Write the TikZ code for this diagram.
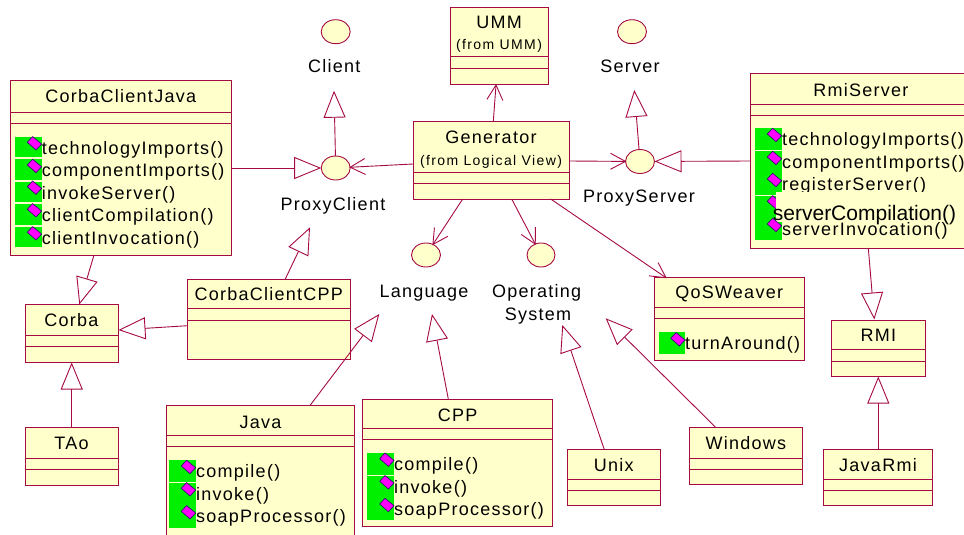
\documentclass[tikz,border=0pt]{standalone}
\usepackage{fontspec}
\setmainfont[LetterSpace=7]{Liberation Sans}
\newfontfamily\fromfont[LetterSpace=10]{Liberation Sans}
\newfontfamily\bigopfont{Liberation Sans}
\usetikzlibrary{calc,arrows.meta,shapes.geometric}
\definecolor{umlline}{HTML}{A50A45}
\definecolor{umlfill}{HTML}{FFFFCB}
\definecolor{opgreen}{HTML}{00F000}
\definecolor{opmagenta}{HTML}{FF00FF}
\definecolor{opshadow}{HTML}{2A0A6A}
\pgfdeclarearrow{
  name = OpenBarb,
  setup code = {\pgfarrowssettipend{0pt}\pgfarrowssetlineend{0pt}\pgfarrowssetbackend{-15pt}\pgfarrowssetvisualbackend{-15pt}},
  drawing code = {
    \pgfpathmoveto{\pgfqpoint{-15pt}{8pt}}
    \pgfpathlineto{\pgfpointorigin}
    \pgfpathlineto{\pgfqpoint{-15pt}{-8pt}}
    \pgfusepathqstroke
  },
}
\tikzset{
  classbox/.style={draw=umlline, fill=umlfill, line width=1pt, inner sep=0pt, outer sep=0pt},
  classrule/.style={draw=umlline, line width=.9pt},
  umltext/.style={inner sep=0pt, anchor=base, font=\fontsize{18}{20}\selectfont},
  fromtext/.style={inner sep=0pt, anchor=base, font=\fromfont\fontsize{14}{16}\selectfont},
  optext/.style={inner sep=0pt, anchor=base west, font=\fontsize{18}{20}\selectfont},
  lolly/.style={ellipse, draw=umlline, fill=umlfill, line width=.9pt, inner sep=0pt, outer sep=0pt,
    minimum width=29pt, minimum height=24pt},
  genline/.style={draw=umlline, line width=.9pt, -{Triangle[open,length=27pt,width=22pt]}},
  assocline/.style={draw=umlline, line width=.9pt, -{OpenBarb}},
}
\newcommand*{\ClassBox}[9]{% #1 = name, #2-#5 = corners, #6/#7 = rules, #8 = baseline, #9 = title
  \node [classbox, minimum width={(#4-#2)*1pt}, minimum height={(#5-#3)*1pt}]
    (#1) at ({(#2+#4)/2},{(#3+#5)/2}) {};
  \draw [classrule] (#1.west |- 0,#6) -- (#1.east |- 0,#6);
  \draw [classrule] (#1.west |- 0,#7) -- (#1.east |- 0,#7);
  \node [umltext] (#1title) at ({(#2+#4)/2},#8) {#9};
}
\newcommand*{\GreenCells}[1]{% #1 = list of x1/y1/x2/y2
  \foreach \xa/\ya/\xb/\yb in {#1} {
    \fill [opgreen] (\xa,\ya) rectangle (\xb,\yb);
    }%
}
\newcommand*{\OpIcon}[2]{% #1/#2 = centre
  \filldraw [shift={(#1,#2)}, fill=opmagenta, draw=opshadow, line width=.6pt]
    (-7,-1) -- (-1.7,-6.7) -- (7.3,.7) -- (1.7,6.7) -- cycle;
}
\newcommand*{\OpCells}[2]{% #1 = prefix, #2 = list of iconx/icony/textx/baseline/name
  \foreach \ix/\iy/\tx/\ty/\opname [count=\i] in {#2} {
    \OpIcon{\ix}{\iy}
    \node [optext] (#1\i) at (\tx,\ty) {\opname()};
    }%
}

\begin{document}
\begin{tikzpicture}[x=1pt,y=-1pt]
  \useasboundingbox (0,0) rectangle (964,535);

  \ClassBox{ccjava}{10.5}{80.5}{231}{255}{112}{123}{102.7}{CorbaClientJava}
  \ClassBox{umm}{450}{7.5}{548.3}{85}{56.5}{68}{28.3}{UMM}
  \ClassBox{generator}{413}{121.5}{569}{199}{172.5}{183.5}{143.3}{Generator}
  \ClassBox{rmiserver}{750.7}{73.7}{971}{248}{104.5}{115.5}{96}{RmiServer}
  \ClassBox{cccpp}{187.5}{279}{350}{359}{308.7}{320}{300}{CorbaClientCPP}
  \ClassBox{corba}{25}{304.5}{118}{362}{335.5}{346.5}{326.7}{Corba}
  \ClassBox{tao}{25}{427}{118}{485}{458}{469}{449}{TAo}
  \ClassBox{java}{166.5}{405.5}{354.5}{535}{435.5}{446.7}{428.3}{Java}
  \ClassBox{cpp}{362.7}{399}{552.7}{526.7}{428}{439.5}{421}{CPP}
  \ClassBox{qos}{654.3}{277.7}{804}{360.7}{307.5}{318.7}{298.7}{QoSWeaver}
  \ClassBox{rmi}{831.7}{320}{925}{376}{349.5}{361}{341.7}{RMI}
  \ClassBox{unix}{567.3}{449.7}{660}{505.7}{479}{490}{471.7}{Unix}
  \ClassBox{windows}{689.7}{427}{802}{484.7}{458}{469}{449}{Windows}
  \ClassBox{javarmi}{823.3}{449.7}{932.7}{505.7}{479}{490}{471.7}{JavaRmi}

  \node [fromtext] (ummfrom) at (499,50) {(from UMM)};
  \node [fromtext] (genfrom) at (491,165.3) {(from Logical View)};

  % operations
  \GreenCells{15/137/42/157.3, 15/159/42/180, 15/182/42/202.3, 15/204/42/225, 15/227/42/246.7}
  \OpCells{ccjop}{34.3/143.3/41.7/154.3/technologyImports, 34.3/166/41.7/176/componentImports,
    34.3/187.7/41.7/199.3/invokeServer, 34.3/210.3/41.7/221/clientCompilation,
    34.3/233.3/41.7/244/clientInvocation}
  \GreenCells{169/460/196/481.7, 169/483/196/527.7}
  \OpCells{javaop}{188.3/467/196/477.3/compile, 188.3/489.3/196/500/invoke, 188.3/512.3/196/522.3/soapProcessor}
  \GreenCells{367.3/453/394/475, 367.3/475.7/394/520}
  \OpCells{cppop}{386.7/459.7/394/470/compile, 386.7/482.3/394/493.3/invoke, 386.7/505/394/515/soapProcessor}
  \GreenCells{659/332/685/354}
  \OpCells{qosop}{677.7/339.3/685/349.3/turnAround}
  \GreenCells{755/128/782/150, 755/151/782/195, 755/196/782/240}
  \OpCells{rmiop}{774.3/135/782/145.3/technologyImports, 774.3/158/782/168/componentImports,
    774.3/180/782/190.3/registerServer}
  \OpIcon{774.3}{202.3}
  \fill [umlfill] (776,191.7) rectangle (958,222);
  \node [optext, font=\bigopfont\fontsize{21}{24}\selectfont] (rmiopbig) at (772.7,220.7) {serverCompilation()};
  \OpCells{rmiend}{774.3/225/782/235/serverInvocation}

  % interfaces
  \node [lolly] (client) at (335.7,31.7) {};
  \node [lolly] (server) at (632,31.7) {};
  \node [lolly] (proxyclient) at (335.7,168) {};
  \node [lolly] (proxyserver) at (640,161.5) {};
  \node [lolly] (language) at (426,255) {};
  \node [lolly, minimum width=28pt] (opsystem) at (541,255) {};
  \node [umltext] (clientlabel) at (334.3,72.7) {Client};
  \node [umltext] (serverlabel) at (630,72.7) {Server};
  \node [umltext] (proxyclientlabel) at (333,210.7) {ProxyClient};
  \node [umltext] (proxyserverlabel) at (639,202.3) {ProxyServer};
  \node [umltext] (languagelabel) at (424,297.3) {Language};
  \node [umltext] (opsystemlabel) at (536.7,297.3) {Operating};
  \node [umltext] (opsystemlabelb) at (538,320) {System};

  % free ends of the open triangles
  \foreach \n/\x/\y in {tipclient/334/90.7, tipserver/634.3/90, tipcorbaa/79.3/304.5, tipcorbab/118.5/330,
    tipcorbac/71.7/362.5, tipproxya/310/227.3, tipjava/379.3/314, tipcpp/432/314,
    tipunix/562.3/325, tipwin/605.7/318.3, tiprmia/874.3/319.5, tiprmib/878.3/376.5} {
    \coordinate (\n) at (\x,\y);
    }

  % generalisations
  \draw [genline] (proxyclient) -- (tipclient);
  \draw [genline] (proxyserver) -- (tipserver);
  \draw [genline] (ccjava.east |- 0,168) -- (proxyclient);
  \draw [genline] (rmiserver.west |- 0,161) -- (proxyserver);
  \draw [genline] (ccjava.south -| 94,0) -- (tipcorbaa);
  \draw [genline] (cccpp.west |- 0,325.7) -- (tipcorbab);
  \draw [genline] (tao.north -| 71.7,0) -- (tipcorbac);
  \draw [genline] (cccpp.north -| 285.3,0) -- (tipproxya);
  \draw [genline] (java.north -| 310,0) -- (tipjava);
  \draw [genline] (cpp.north -| 448.3,0) -- (tipcpp);
  \draw [genline] (unix.north -| 604.3,0) -- (tipunix);
  \draw [genline] (windows.north -| 715.3,0) -- (tipwin);
  \draw [genline] (rmiserver.south -| 868.3,0) -- (tiprmia);
  \draw [genline] (javarmi.north -| 878.3,0) -- (tiprmib);

  % associations
  \draw [assocline] (generator.north -| 493.3,0) -- (umm.south -| 496,0);
  \draw [assocline] (generator.west |- 0,164) -- (proxyclient);
  \draw [assocline] (generator.east |- 0,161) -- (proxyserver);
  \draw [assocline] (generator.south -| 462.7,0) -- (language);
  \draw [assocline] (generator.south -| 511.7,0) -- (opsystem);
  \draw [assocline] (generator.south -| 550.7,0) -- (qos.north -| 666,0);
\end{tikzpicture}
\end{document}
